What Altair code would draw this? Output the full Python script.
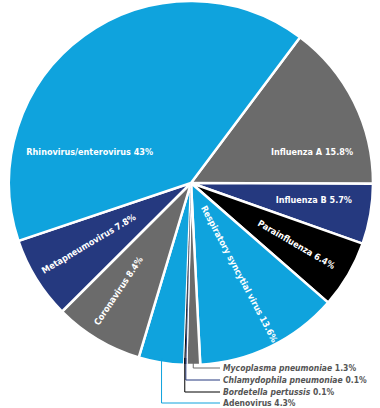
import math
import altair as alt
import pandas as pd

# ---------------- data ----------------
names = ["Influenza A", "Influenza B", "Parainfluenza", "Respiratory syncytial virus",
         "Mycoplasma pneumoniae", "Chlamydophila pneumoniae", "Bordetella pertussis",
         "Adenovirus", "Coronavirus", "Metapneumovirus", "Rhinovirus/enterovirus"]
shares = [15.8, 5.7, 6.4, 13.6, 1.3, 0.1, 0.1, 4.3, 8.4, 7.8, 43]

# ---------------- style / layout ----------------
LBLUE, GRAY, NAVY, BLACK = "#0fa3dd", "#6b6b6b", "#25397f", "#000000"
colors = [GRAY, NAVY, BLACK, LBLUE, GRAY, NAVY, BLACK, LBLUE, GRAY, NAVY, LBLUE]
FONT = "DejaVu Sans Condensed"
CX, CY, R = 191, 183, 182
A0 = math.radians(36.8)
total = sum(shares)

df = pd.DataFrame({"name": names, "share": shares})
df["end"] = df["share"].cumsum()
df["start"] = df["end"] - df["share"]
df["mid"] = (df["start"] + df["end"]) / 2
df["label"] = [f"{n} {v:g}%" for n, v in zip(names, shares)]

theta_scale = alt.Scale(domain=[0, total], range=[A0, A0 + 2 * math.pi])
color_scale = alt.Scale(domain=names, range=colors)

base = alt.Chart(df)

arcs = base.mark_arc(radius=R, stroke="white", strokeWidth=2.5).encode(
    theta=alt.Theta("start:Q", scale=theta_scale, stack=None),
    theta2="end:Q",
    color=alt.Color("name:N", scale=color_scale, legend=None),
    x=alt.value(CX), y=alt.value(CY),
)
tiny = base.mark_arc(radius=R - 1).encode(
    theta=alt.Theta("start:Q", scale=theta_scale, stack=None),
    theta2="end:Q",
    color=alt.Color("name:N", scale=color_scale, legend=None),
    x=alt.value(CX), y=alt.value(CY),
).transform_filter("datum.share < 0.5")

# inside labels: (radius, theta offset deg, radial rotation?)
label_layout = {
    "Rhinovirus/enterovirus": (106, -37, False),
    "Influenza A": (125, 12, False),
    "Influenza B": (124, -2, False),
    "Parainfluenza": (122, 0, True),
    "Respiratory syncytial virus": (103, -2, True),
    "Metapneumovirus": (119, 1, True),
    "Coronavirus": (130, 3, True),
}
LFS = 9
layers = [arcs, tiny]
for nm, (rad, dt, radial) in label_layout.items():
    mid = float(df.loc[df["name"] == nm, "mid"].iloc[0])
    ang_deg = math.degrees(A0) + mid / total * 360 + dt
    if radial:
        rot = ang_deg - 90 if (ang_deg % 360) < 180 else ang_deg - 270
        rot = rot % 360
    else:
        rot = 0
    layers.append(
        base.mark_text(radius=rad, thetaOffset=math.radians(dt), angle=rot,
                       font=FONT, fontSize=LFS, fontWeight="bold", color="white",
                       align="center", baseline="middle").encode(
            theta=alt.Theta("mid:Q", scale=theta_scale, stack=None),
            text="label:N",
            x=alt.value(CX), y=alt.value(CY),
        ).transform_filter(alt.datum.name == nm)
    )

# callouts at the bottom
callout_names = ["Mycoplasma pneumoniae", "Chlamydophila pneumoniae", "Bordetella pertussis", "Adenovirus"]
callout_y = [368, 380, 392, 403]
callout_italic = [True, True, True, False]
TX, FS = 223, 8.5

# approximate DejaVu Sans Bold advance widths (per 1000 em); condensed = x0.9
AW = {"a": 675, "b": 716, "c": 593, "d": 716, "e": 678, "f": 435, "g": 716, "h": 712,
      "i": 343, "j": 343, "k": 665, "l": 343, "m": 1042, "n": 712, "o": 687, "p": 716,
      "q": 716, "r": 493, "s": 595, "t": 478, "u": 712, "v": 652, "w": 924, "x": 645,
      "y": 652, "z": 582, "M": 995, "C": 734, "B": 765, "A": 774, " ": 348}


def text_w(s, size):
    return sum(AW.get(c, 690) for c in s) * 0.9 * size / 1000


rows = []
for nm, ly, it in zip(callout_names, callout_y, callout_italic):
    r = df.loc[df["name"] == nm].iloc[0]
    ang = A0 + r["mid"] / total * 2 * math.pi
    lx = CX + (R - 2) * math.sin(ang)
    pct = f"{r['share']:g}%"
    if it:
        rows.append({"name": nm, "lx": lx, "ly": ly, "it": True, "first": nm,
                     "rest": pct, "px": TX + text_w(nm + " ", FS)})
    else:
        rows.append({"name": nm, "lx": lx, "ly": ly, "it": False, "first": "",
                     "rest": f"{nm} {pct}", "px": TX})
cdf = pd.DataFrame(rows)
cbase = alt.Chart(cdf)

vlines = cbase.mark_rule(strokeWidth=1).encode(
    x=alt.X("lx:Q", scale=None),
    y=alt.Y("ly:Q", scale=None), y2=alt.value(358),
    color=alt.Color("name:N", scale=color_scale, legend=None),
)
hlines = cbase.mark_rule(strokeWidth=1).encode(
    x=alt.X("lx:Q", scale=None), x2=alt.value(220),
    y=alt.Y("ly:Q", scale=None),
    color=alt.Color("name:N", scale=color_scale, legend=None),
)
it_text = cbase.mark_text(align="left", baseline="middle", font=FONT, fontSize=FS,
                          fontWeight="bold", fontStyle="italic", color="#555555").encode(
    x=alt.value(TX), y=alt.Y("ly:Q", scale=None), text="first:N",
).transform_filter("datum.it")
up_text = cbase.mark_text(align="left", baseline="middle", font=FONT, fontSize=FS,
                          fontWeight="bold", color="#555555").encode(
    x=alt.X("px:Q", scale=None), y=alt.Y("ly:Q", scale=None), text="rest:N",
)

chart = alt.layer(*layers, vlines, hlines, it_text, up_text).properties(
    width=380, height=408, padding=0, autosize="none", background="white"
).configure_view(stroke=None)

chart.save("out.html", embed_options={"renderer": "svg", "actions": False})
